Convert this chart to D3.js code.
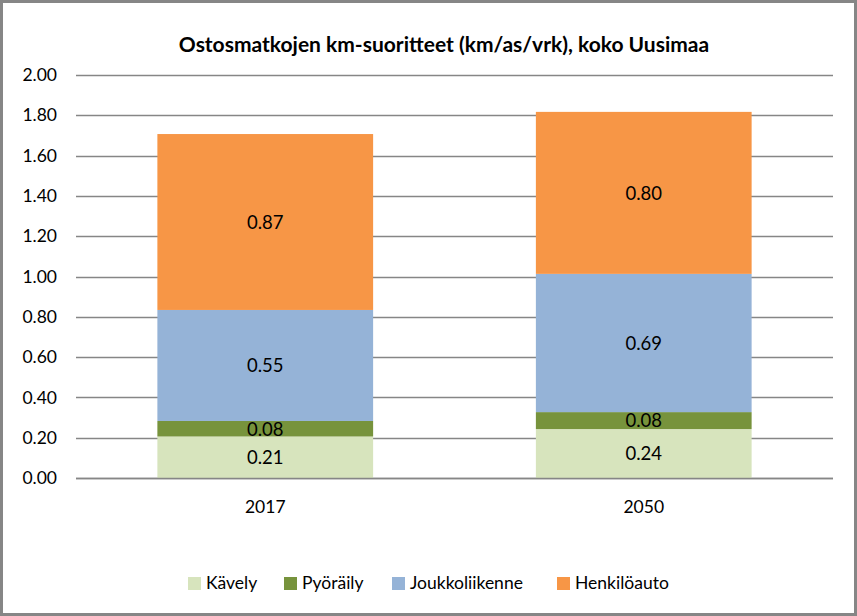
<!DOCTYPE html>
<html><head><meta charset="utf-8">
<script src="https://cdn.jsdelivr.net/npm/d3@7"></script>
<style>body{margin:0;background:#fff}svg{display:block}</style>
</head><body>
<svg id="c" width="857" height="616"></svg>
<script>
const title = "Ostosmatkojen km-suoritteet (km/as/vrk), koko Uusimaa";
const years = ["2017", "2050"];
const seriesNames = ["Kävely", "Pyöräily", "Joukkoliikenne", "Henkilöauto"];
const kavely = [0.206, 0.243];
const pyoraily = [0.077, 0.084];
const joukkoliikenne = [0.551, 0.686];
const henkiloauto = [0.873, 0.804];
const yTicks = [0, 0.2, 0.4, 0.6, 0.8, 1.0, 1.2, 1.4, 1.6, 1.8, 2.0];
const colors = ["#D7E4BD", "#77933C", "#95B3D7", "#F79646"];

const svg = d3.select("#c");
const W = 857, H = 616;
const FONT = "Lato, 'Open Sans', sans-serif";
svg.append("rect").attr("x",1.5).attr("y",1.5).attr("width",W-3).attr("height",H-3)
  .attr("fill","#fff").attr("stroke","#868686").attr("stroke-width",3);

const m = {left:76, right:833, top:75, bottom:478};
const x = d3.scaleBand().domain(years).range([m.left, m.right]).paddingInner(0.43).paddingOuter(0.215);
const y = d3.scaleLinear().domain([0, 2]).range([m.bottom, m.top]);

const rows = years.map((yr,i)=>({year:yr, "Kävely":kavely[i], "Pyöräily":pyoraily[i], "Joukkoliikenne":joukkoliikenne[i], "Henkilöauto":henkiloauto[i]}));
const stack = d3.stack().keys(seriesNames)(rows);

// gridlines
svg.append("g").selectAll("line").data(yTicks).join("line")
  .attr("x1", m.left).attr("x2", m.right)
  .attr("y1", d=>Math.round(y(d))+0.5).attr("y2", d=>Math.round(y(d))+0.5)
  .attr("stroke","#868686").attr("stroke-width",1.3);

// y labels
svg.append("g").selectAll("text").data(yTicks).join("text")
  .attr("x", 57).attr("y", d=>y(d)).attr("dy","0.35em").attr("text-anchor","end")
  .attr("font-family",FONT).attr("font-size",17.5).attr("fill","#000")
  .text(d=>d3.format(".2f")(d));

// bars
const g = svg.append("g");
stack.forEach((s,si)=>{
  g.append("g").selectAll("rect").data(s).join("rect")
    .attr("x", d=>x(d.data.year)).attr("width", x.bandwidth())
    .attr("y", d=>y(d[1])).attr("height", d=>y(d[0])-y(d[1]))
    .attr("fill", colors[si]);
  g.append("g").selectAll("text").data(s).join("text")
    .attr("x", d=>x(d.data.year)+x.bandwidth()/2)
    .attr("y", d=>(y(d[0])+y(d[1]))/2).attr("dy","0.37em")
    .attr("text-anchor","middle").attr("font-family",FONT).attr("font-size",18.5).attr("fill","#000")
    .text(d=>d3.format(".2f")(d[1]-d[0]));
});
// redraw baseline on top
svg.append("line").attr("x1",m.left).attr("x2",m.right).attr("y1",Math.round(y(0))+0.5).attr("y2",Math.round(y(0))+0.5)
  .attr("stroke","#868686").attr("stroke-width",1.5);

// x labels
svg.append("g").selectAll("text").data(years).join("text")
  .attr("x", d=>x(d)+x.bandwidth()/2).attr("y", 507).attr("dy","0.35em")
  .attr("text-anchor","middle").attr("font-family",FONT).attr("font-size",17.5).attr("fill","#000")
  .text(d=>d);

// title
svg.append("text").attr("x", 444).attr("y", 45).attr("dy","0.35em").attr("text-anchor","middle")
  .attr("font-family",FONT).attr("font-weight","bold").attr("font-size",21).attr("fill","#000")
  .text(title);

// legend
const legX = [188, 284, 392, 557];
const leg = svg.append("g").selectAll("g").data(seriesNames).join("g")
  .attr("transform",(d,i)=>`translate(${legX[i]},583)`);
leg.append("rect").attr("x",0).attr("y",-6).attr("width",13).attr("height",13).attr("fill",(d,i)=>colors[i]);
leg.append("text").attr("x",18).attr("y",0).attr("dy","0.35em").attr("font-family",FONT)
  .attr("font-size",17.5).attr("fill","#000").text(d=>d);
</script>
</body></html>
